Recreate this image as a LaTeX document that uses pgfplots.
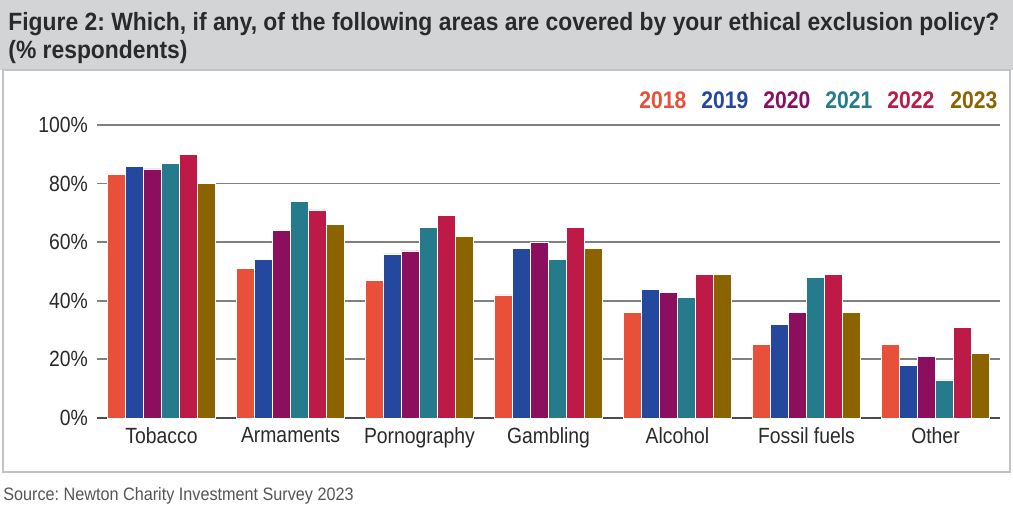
\documentclass[border=0pt]{standalone}
\usepackage{fontspec}
\setmainfont[FakeStretch=0.88]{Liberation Sans}
\newfontfamily\titlefont[FakeStretch=0.915]{Liberation Sans}
\newfontfamily\srcfont[FakeStretch=0.9]{Liberation Sans}
\usepackage{pgfplots}
\pgfplotsset{compat=1.18}
\definecolor{c18}{HTML}{E8503A}
\definecolor{c19}{HTML}{23489E}
\definecolor{c20}{HTML}{8C0E5F}
\definecolor{c21}{HTML}{257A8C}
\definecolor{c22}{HTML}{BE1A48}
\definecolor{c23}{HTML}{8B6400}
\definecolor{band}{HTML}{D3D4D6}
\definecolor{txt}{HTML}{2A2A2A}
\frenchspacing
\begin{document}
\begin{tikzpicture}
\path[use as bounding box] (0,0) rectangle (506.5pt,-253pt);
\fill[band] (0,0) rectangle (506.5pt,-35pt);
\draw[band!80!gray, line width=1pt, fill=white] (1.5pt,-35pt) rectangle (505pt,-236pt);
\node[anchor=north west, inner sep=0pt, align=left, text=txt,
  font=\titlefont\bfseries\fontsize{12.5}{14}\selectfont] at (4pt,-6pt)
  {Figure 2: Which, if any, of the following areas are covered by your ethical exclusion policy?\\(\% respondents)};
\node[anchor=west, inner sep=0pt, text=txt!80!white, font=\srcfont\fontsize{9}{10}\selectfont] at (1.5pt,-248pt)
  {Source: Newton Charity Investment Survey 2023};
\begin{axis}[
  at={(48.5pt,-209pt)}, anchor=south west,
  scale only axis, width=451.5pt, height=146.5pt,
  xmin=-0.5, xmax=6.5, ymin=0, ymax=100,
  ybar=0pt, bar width=9pt,
  axis x line*=bottom, axis y line*=left,
  y axis line style={draw=none},
  x axis line style={draw=black!70, line width=0.9pt},
  major tick length=0pt,
  ymajorgrids, grid style={black!50, line width=0.9pt},
  ytick={0,20,40,60,80,100},
  yticklabel={\pgfmathprintnumber{\tick}\%},
  /pgf/number format/assume math mode=true,
  yticklabel style={font=\fontsize{11}{13}\selectfont, text=txt, xshift=-1pt},
  xtick={0,1,2,3,4,5,6},
  xticklabels={Tobacco,Armaments,Pornography,Gambling,Alcohol,Fossil fuels,Other},
  xticklabel style={font=\fontsize{11}{13}\selectfont, text=txt, yshift=-1pt},
  clip=false,
  every axis plot/.append style={draw=white, line width=0.4pt},
]
\addplot[fill=c18] coordinates {(0,83) (1,51) (2,47) (3,42) (4,36) (5,25) (6,25)};
\addplot[fill=c19] coordinates {(0,86) (1,54) (2,56) (3,58) (4,44) (5,32) (6,18)};
\addplot[fill=c20] coordinates {(0,85) (1,64) (2,57) (3,60) (4,43) (5,36) (6,21)};
\addplot[fill=c21] coordinates {(0,87) (1,74) (2,65) (3,54) (4,41) (5,48) (6,13)};
\addplot[fill=c22] coordinates {(0,90) (1,71) (2,69) (3,65) (4,49) (5,49) (6,31)};
\addplot[fill=c23] coordinates {(0,80) (1,66) (2,62) (3,58) (4,49) (5,36) (6,22)};
\end{axis}
\begin{scope}[font=\bfseries\fontsize{12}{14}\selectfont]
\node[anchor=west, inner sep=0pt, text=c18] at (319.5pt,-50pt) {2018};
\node[anchor=west, inner sep=0pt, text=c19] at (350.5pt,-50pt) {2019};
\node[anchor=west, inner sep=0pt, text=c20] at (381.5pt,-50pt) {2020};
\node[anchor=west, inner sep=0pt, text=c21] at (412.5pt,-50pt) {2021};
\node[anchor=west, inner sep=0pt, text=c22] at (443.5pt,-50pt) {2022};
\node[anchor=west, inner sep=0pt, text=c23] at (475pt,-50pt) {2023};
\end{scope}
\end{tikzpicture}
\end{document}
